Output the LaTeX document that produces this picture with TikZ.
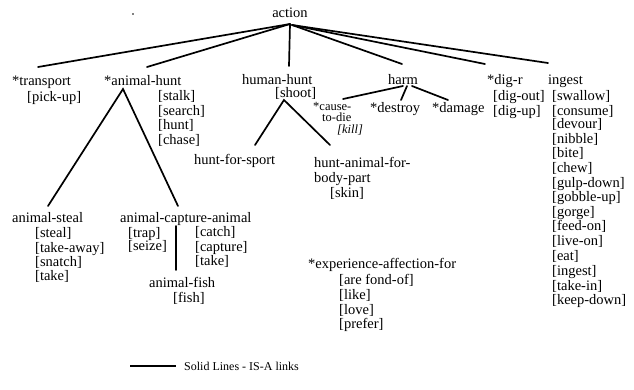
\documentclass[tikz,border=0pt]{standalone}
\usepackage{fontspec}
\setmainfont{Liberation Serif}
\begin{document}
\begin{tikzpicture}[x=1pt,y=-1pt,
  lbl/.style={inner sep=0pt, anchor=base west, font=\fontsize{14.5}{14.6}\selectfont},
  lst/.style={inner sep=0pt, anchor=north west, align=left, font=\fontsize{14.5}{14.8}\selectfont},
  sml/.style={inner sep=0pt, anchor=base west, font=\fontsize{12.5}{11}\selectfont},
  isa/.style={line width=1.7pt, line cap=round}]
\useasboundingbox (0,0) rectangle (634,389);
\fill (133,14) circle (0.9);
% nodes
\node[lbl, anchor=base] (action) at (290,17) {action};
\node[lbl] (transport) at (12,85) {*transport};
\node[lbl] (pickup) at (27,101) {[pick-up]};
\node[lbl] (animalhunt) at (104,85) {*animal-hunt};
\node[lst] (ahlist) at (158,90) {[stalk]\\{}[search]\\{}[hunt]\\{}[chase]};
\node[lbl] (humanhunt) at (242,84) {human-hunt};
\node[lbl] (shoot) at (275,97) {[shoot]};
\node[lbl] (harm) at (388,84) {harm};
\node[sml] (cause) at (313,110) {*cause-};
\node[sml] (todie) at (322,121.5) {to-die};
\node[sml] (kill) at (337,133.5) {\itshape [kill]};
\node[lbl] (destroy) at (370,112) {*destroy};
\node[lbl] (damage) at (432,112) {*damage};
\node[lbl] (digr) at (487,84) {*dig-r};
\node[lst] (diglist) at (493,90) {[dig-out]\\[0.4pt][dig-up]};
\node[lbl] (ingest) at (548,84) {ingest};
\node[lst] (inglist) at (552,90) {[swallow]\\{}[consume]\\[-1.5pt][devour]\\{}[nibble]\\{}[bite]\\{}[chew]\\{}[gulp-down]\\[-1pt][gobble-up]\\{}[gorge]\\{}[feed-on]\\{}[live-on]\\{}[eat]\\{}[ingest]\\{}[take-in]\\{}[keep-down]};
\node[lbl] (sport) at (194,164) {hunt-for-sport};
\node[lst] (bodypart) at (314,157) {hunt-animal-for-\\{}body-part};
\node[lbl] (skin) at (330,197) {[skin]};
\node[lbl] (steal) at (12,222) {animal-steal};
\node[lst] (steallist) at (35,227) {[steal]\\{}[take-away]\\{}[snatch]\\[-1.5pt][take]};
\node[lbl] (capture) at (120,222) {animal-capture-animal};
\node[lst] (traplist) at (128,227) {[trap]\\[-1.5pt][seize]};
\node[lst] (catchlist) at (195,226) {[catch]\\{}[capture]\\{}[take]};
\node[lbl] (fishn) at (149,287) {animal-fish};
\node[lbl] (fish) at (173,302) {[fish]};
\node[lbl] (exp) at (308,268) {*experience-affection-for};
\node[lst] (explist) at (339,274) {[are fond-of]\\{}[like]\\{}[love]\\{}[prefer]};
\node[inner sep=0pt, anchor=base west, font=\fontsize{12}{12}\selectfont] (legend) at (184,370) {Solid Lines - IS-A links};
% attachment coordinates
\coordinate (a0) at (290,24);
\coordinate (a1) at (292,25);
\coordinate (transportT) at (38,67);
\coordinate (animalhuntT) at (147,67);
\coordinate (humanhuntT) at (289,66);
\coordinate (harmT) at (402,64);
\coordinate (digrT) at (485,64);
\coordinate (ingestT) at (548,63);
\coordinate (ahB) at (123,89);
\coordinate (stealT) at (48,206);
\coordinate (captureT) at (178,206);
\coordinate (hhB) at (284,100);
\coordinate (sportT) at (255,145);
\coordinate (bodyT) at (330,145);
\coordinate (harmB1) at (403,86);
\coordinate (harmB2) at (407,86);
\coordinate (harmB3) at (412,86);
\coordinate (causeT) at (343,99);
\coordinate (destroyT) at (401,100);
\coordinate (damageT) at (448,100);
\coordinate (capB) at (176,226);
\coordinate (fishT) at (176,270);
\coordinate (legA) at (130,366);
\coordinate (legB) at (176,366);
% links
\draw[isa] (a0) -- (transportT);
\draw[isa] (a0) -- (animalhuntT);
\draw[isa] (a0) -- (humanhuntT);
\draw[isa] (a1) -- (harmT);
\draw[isa] (a1) -- (digrT);
\draw[isa] (a1) -- (ingestT);
\draw[isa] (stealT) -- (ahB) -- (captureT);
\draw[isa] (sportT) -- (hhB) -- (bodyT);
\draw[isa] (harmB1) -- (causeT);
\draw[isa] (harmB2) -- (destroyT);
\draw[isa] (harmB3) -- (damageT);
\draw[isa] (capB) -- (fishT);
\draw[line width=1.2pt] (legA) -- (legB);
\end{tikzpicture}
\end{document}
